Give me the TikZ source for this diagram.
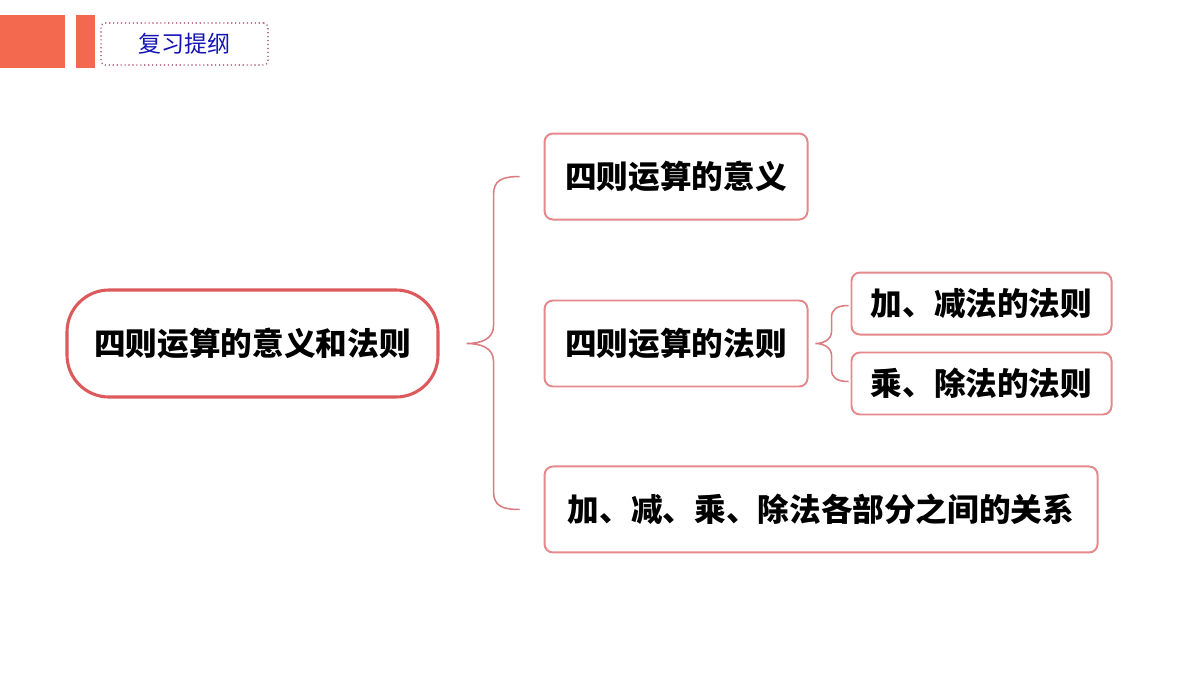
\documentclass[tikz,border=0pt]{standalone}
\usepackage{xcolor}
\usepackage{fontspec}
\usepackage{tikz}
\usetikzlibrary{positioning, calc}
\newfontfamily\cjk{Noto Sans CJK SC}
\definecolor{barred}{HTML}{F2694F}
\definecolor{mainred}{HTML}{DC5A5C}
\definecolor{boxred}{HTML}{E4898C}
\definecolor{linered}{HTML}{DB7C80}
\definecolor{titleblue}{HTML}{1414B4}
\definecolor{dotred}{HTML}{9E3050}

\begin{document}
\begin{tikzpicture}[
  topicnode/.style = {rectangle, rounded corners=1.05cm, draw=mainred,
    line width=2.2pt, fill=white, minimum width=9.275cm, minimum height=2.675cm,
    font=\cjk\bfseries\fontsize{22.5}{27}\selectfont, align=center},
  itemnode/.style = {rectangle, rounded corners=6pt, draw=boxred,
    line width=1.4pt, fill=white, minimum width=6.575cm, minimum height=2.15cm,
    font=\cjk\bfseries\fontsize{22.5}{27}\selectfont, align=center},
  subnode/.style = {itemnode, minimum width=6.5cm, minimum height=1.55cm},
  bracket/.style = {draw=linered, line width=1.1pt},
]
\useasboundingbox (0,0) rectangle (30,-16.875);

% Header bars and title
\fill[barred] (0,-0.375) rectangle (1.625,-1.7);
\fill[barred] (1.9,-0.375) rectangle (2.375,-1.7);
\node[draw=dotred, dotted, line width=0.8pt, rounded corners=3pt,
  minimum width=4.175cm, minimum height=1.05cm, text=titleblue,
  font=\cjk\fontsize{16.4}{20}\selectfont] (title) at (4.6125,-1.1) {复习提纲};

% Main topic
\node[topicnode] (topic) at (6.3125,-8.5875) {四则运算的意义和法则};

% Item nodes
\node[itemnode, right=2.6cm of topic.east, anchor=west] (rules) {四则运算的法则};
\node[itemnode, above=1.975cm of rules.north west, anchor=south west] (meaning) {四则运算的意义};
\node[itemnode, below=1.95cm of rules.south west, anchor=north west,
  minimum width=13.825cm] (relation) {加、减、乘、除法各部分之间的关系};

% Sub nodes
\node[subnode, right=1.05cm of rules.east, anchor=south west, yshift=0.2cm] (addsub) {加、减法的法则};
\node[subnode, right=1.05cm of rules.east, anchor=north west, yshift=-0.2cm] (muldiv) {乘、除法的法则};

% Big brace
\coordinate (tipA) at ($(topic.east)+(0.675,0)$);
\coordinate (endA) at ($(meaning.west)+(-0.6,0)$);
\coordinate (endB) at ($(relation.west)+(-0.6,0)$);
\draw[bracket] (endA) .. controls +(-0.45,0) and +(0,0.35) .. ($(endA)+(-0.65,-0.45)$)
  -- ($(tipA)+(0.675,0.45)$) .. controls +(0,-0.35) and +(0.35,0) .. (tipA)
  .. controls +(0.35,0) and +(0,0.35) .. ($(tipA)+(0.675,-0.45)$)
  -- ($(endB)+(-0.65,0.45)$) .. controls +(0,-0.35) and +(-0.45,0) .. (endB);

% Small brace
\coordinate (tipB) at ($(rules.east)+(0.175,0)$);
\coordinate (endC) at ($(addsub.west)+(-0.05,-0.05)$);
\coordinate (endD) at ($(muldiv.west)+(-0.05,0.05)$);
\draw[bracket] (endC) .. controls +(-0.3,0) and +(0,0.2) .. ($(endC)+(-0.425,-0.3)$)
  -- ($(tipB)+(0.4,0.3)$) .. controls +(0,-0.2) and +(0.2,0) .. (tipB)
  .. controls +(0.2,0) and +(0,0.2) .. ($(tipB)+(0.4,-0.3)$)
  -- ($(endD)+(-0.425,0.3)$) .. controls +(0,-0.2) and +(-0.3,0) .. (endD);
\end{tikzpicture}
\end{document}
